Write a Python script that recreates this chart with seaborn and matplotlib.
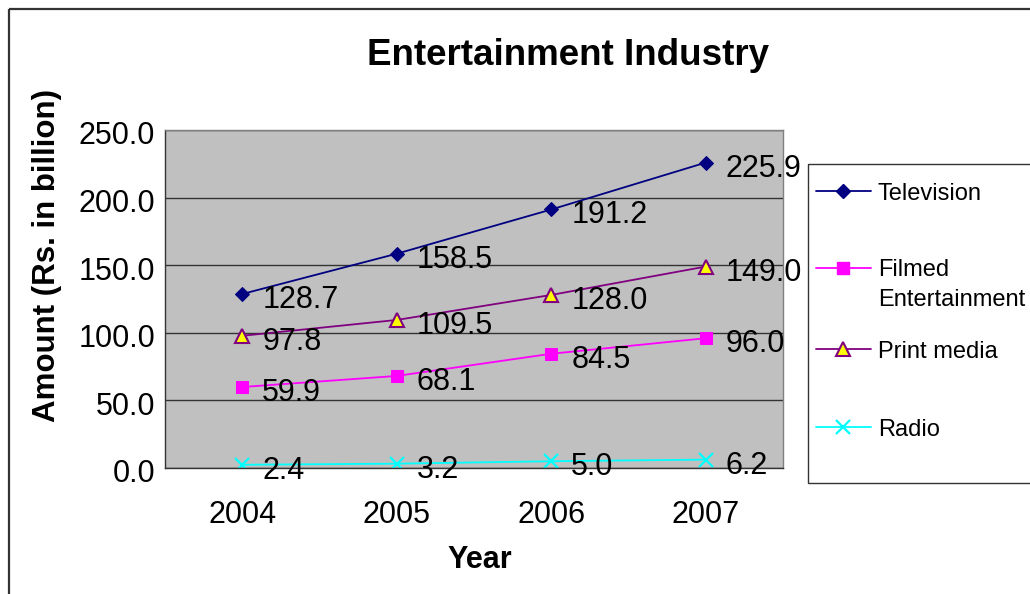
import numpy as np
import matplotlib
matplotlib.use("Agg")
import matplotlib.pyplot as plt
import seaborn as sns
from matplotlib.patches import Rectangle
from matplotlib.lines import Line2D
from matplotlib.transforms import ScaledTranslation

# data
years = ["2004", "2005", "2006", "2007"]
television = [128.7, 158.5, 191.2, 225.9]
filmed = [59.9, 68.1, 84.5, 96.0]
print_media = [97.8, 109.5, 128.0, 149.0]
radio = [2.4, 3.2, 5.0, 6.2]
series_names = ["Television", "Filmed\nEntertainment", "Print media", "Radio"]
y_ticks = [0, 50, 100, 150, 200, 250]

sns.set_theme(style="white")
plt.rcParams["font.family"] = ["Liberation Sans", "DejaVu Sans"]
plt.rcParams["text.color"] = "black"
plt.rcParams["xtick.color"] = "black"
plt.rcParams["ytick.color"] = "black"
plt.rcParams["axes.labelcolor"] = "black"

W, H = 1030, 594
fig = plt.figure(figsize=(W / 100, H / 100), dpi=100)
fig.patch.set_facecolor("white")

# plot area in pixel units
left, right, top, bottom = 165, 783, 130, 468
ax = fig.add_axes([left / W, 1 - bottom / H, (right - left) / W, (bottom - top) / H])
ax.set_facecolor("#C0C0C0")

styles = [
    dict(color="#000080", marker="D", markersize=7.3, markerfacecolor="#000080", markeredgecolor="#000080"),
    dict(color="#FF00FF", marker="s", markersize=8.5, markerfacecolor="#FF00FF", markeredgecolor="#FF00FF"),
    dict(color="#800080", marker="^", markersize=9.5, markerfacecolor="#FFFF00", markeredgecolor="#800080", markeredgewidth=1.5),
    dict(color="#00FFFF", marker="x", markersize=9.5, markeredgecolor="#00FFFF", markeredgewidth=1.6),
]
all_values = [television, filmed, print_media, radio]

for vals, st in zip(all_values, styles):
    sns.lineplot(x=years, y=vals, ax=ax, sort=False, linewidth=1.3, zorder=3, **st)
    for yr, v in zip(years, vals):
        ax.annotate(f"{v:.1f}", xy=(yr, v), xytext=(20, -14), textcoords="offset pixels",
                    ha="left", va="baseline", fontsize=22, color="black", zorder=5)

ax.set_xlim(-0.5, 3.5)
ax.set_ylim(0, 250)
ax.set_yticks(y_ticks)
ax.set_yticklabels([f"{t:.1f}" for t in y_ticks])
ax.set_xticks(range(len(years)))
ax.set_xticklabels(years)
ax.set_xticks(np.arange(-0.5, 4.0, 1.0), minor=True)
ax.grid(axis="y", color="#333333", linewidth=1.0)
ax.set_axisbelow(True)
ax.tick_params(axis="x", which="major", length=0, pad=23, labelsize=22, labelcolor="black")
ax.tick_params(axis="x", which="minor", length=6, width=1.0, color="#333333", direction="out")
ax.tick_params(axis="y", length=6, width=1.0, color="#333333", direction="out", pad=1,
               labelsize=22, labelcolor="black")
# nudge y tick labels down a little, like the original
shift = ScaledTranslation(0, -3 / 100, fig.dpi_scale_trans)
for lab in ax.get_yticklabels():
    lab.set_transform(lab.get_transform() + shift)
ax.set_xlabel("")
ax.set_ylabel("")
for side in ["left", "bottom"]:
    ax.spines[side].set_color("#333333")
    ax.spines[side].set_linewidth(1.0)
for side in ["top", "right"]:
    ax.spines[side].set_color("#808080")
    ax.spines[side].set_linewidth(1.0)
ax.spines["bottom"].set_zorder(4)

# titles
fig.text(568 / W, 1 - 65 / H, "Entertainment Industry", ha="center", va="baseline",
         fontsize=26.5, fontweight="bold", color="black")
fig.text(480 / W, 1 - 568 / H, "Year", ha="center", va="baseline", fontsize=22,
         fontweight="bold", color="black")
fig.text(47 / W, 1 - 256 / H, "Amount (Rs. in billion)", ha="center", va="center",
         rotation=90, fontsize=22.5, fontweight="bold", color="black")

# overlay in pixel coords for outer border and legend box
ov = fig.add_axes([0, 0, 1, 1], facecolor="none")
ov.set_xlim(0, W)
ov.set_ylim(H, 0)
ov.axis("off")
ov.add_patch(Rectangle((9, 9), W + 50, H + 50, fill=False, edgecolor="#333333", linewidth=1.6))
ov.add_patch(Rectangle((808, 164), 300, 319, fill=False, edgecolor="#333333", linewidth=1.0))

legend_y = [191, 268, 349, 427]
for name, st, ly in zip(series_names, styles, legend_y):
    ov.add_line(Line2D([816, 843, 871], [ly, ly, ly], markevery=[1], linewidth=1.3, **st))
    for i, part in enumerate(name.split("\n")):
        ov.text(878, ly + 8.5 + i * 29, part, ha="left", va="baseline", fontsize=17, color="black")

fig.savefig("out.png", dpi=100)
